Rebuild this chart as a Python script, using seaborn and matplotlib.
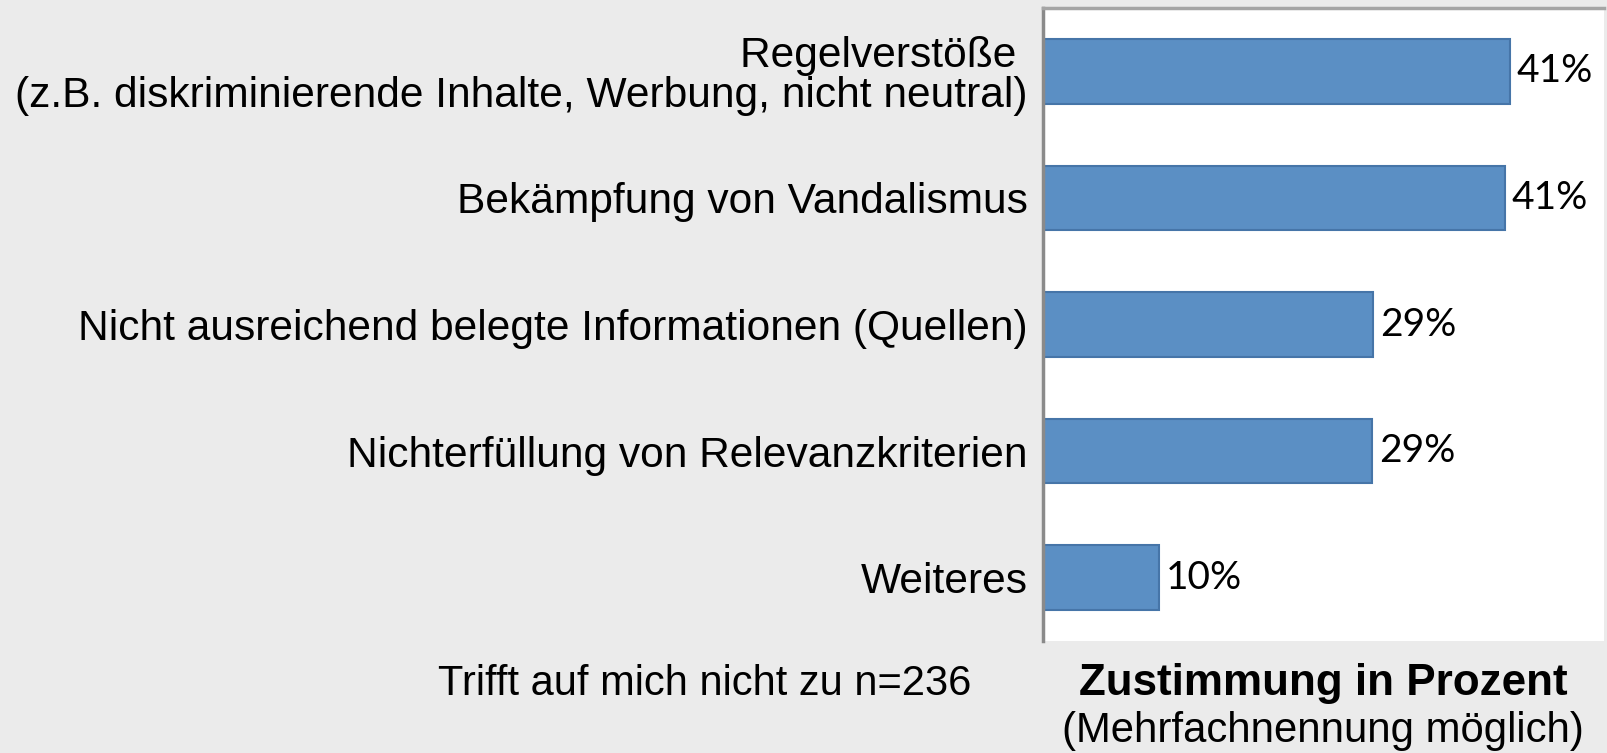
import numpy as np
import pandas as pd
import matplotlib
matplotlib.use('Agg')
import matplotlib.pyplot as plt
import seaborn as sns

categories = [
    'Regelverstöße \n(z.B. diskriminierende Inhalte, Werbung, nicht neutral)',
    'Bekämpfung von Vandalismus',
    'Nicht ausreichend belegte Informationen (Quellen)',
    'Nichterfüllung von Relevanzkriterien',
    'Weiteres',
]
values = [41.0, 40.6, 29.0, 28.9, 10.2]

note_text = 'Trifft auf mich nicht zu n=236'
xlabel_main = 'Zustimmung in Prozent'
xlabel_sub = '(Mehrfachnennung möglich)'

df = pd.DataFrame({'reason': categories, 'pct': values})

sns.set_style('white')
plt.rcParams['font.family'] = ['Liberation Sans', 'DejaVu Sans']
plt.rcParams['text.color'] = 'black'
plt.rcParams['ytick.color'] = 'black'

bg = '#ebebeb'
fig = plt.figure(figsize=(16.08, 7.53), dpi=100, facecolor=bg)
ax = fig.add_axes([0.6486, 0.1487, 0.3489, 0.8407])
ax.set_facecolor('white')

sns.barplot(data=df, x='pct', y='reason', orient='h', color='#5b8fc4',
            saturation=1, width=0.51, edgecolor='#4675a8', linewidth=1.5, ax=ax)

# percentage labels next to each bar
ax.bar_label(ax.containers[0], fmt=lambda v: f'{v:.0f}%', padding=5,
             fontsize=28, family=['Lato', 'DejaVu Sans'], color='black')

ax.set_xlim(0, 49.3)
ax.set_ylim(4.5, -0.5)
ax.set_xticks([])
ax.set_xlabel('')
ax.set_ylabel('')
ax.tick_params(axis='y', length=0, pad=11, labelsize=30.6, labelcolor='black')
for lbl in ax.get_yticklabels():
    lbl.set_linespacing(1.0)

for side in ['right', 'bottom']:
    ax.spines[side].set_visible(False)
ax.spines['left'].set_color('#8a8a8a')
ax.spines['left'].set_linewidth(2.5)
ax.spines['top'].set_color('#a5a5a5')
ax.spines['top'].set_linewidth(2.5)

fig.text(705 / 1608, 1 - 684 / 753, note_text, ha='center', va='center', fontsize=30)
fig.text(1323 / 1608, 1 - 684 / 753, xlabel_main, ha='center', va='center',
         fontsize=31.7, fontweight='bold')
fig.text(1323 / 1608, 1 - 731 / 753, xlabel_sub, ha='center', va='center', fontsize=30.2)

fig.savefig('out.png', dpi=100, facecolor=bg)
